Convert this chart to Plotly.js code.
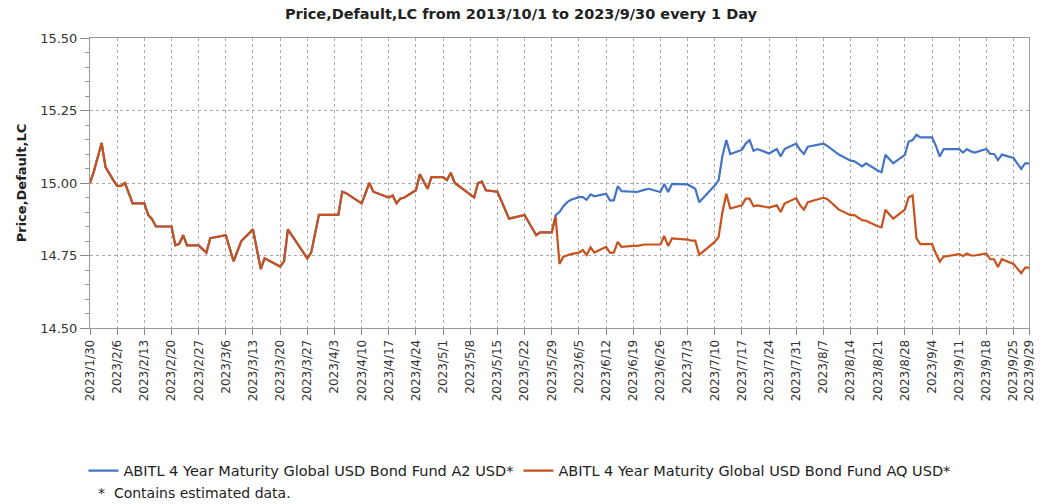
<!DOCTYPE html>
<html>
<head>
<meta charset="utf-8">
<script src="https://cdn.plot.ly/plotly-3.0.1.min.js"></script>
<style>html,body{margin:0;padding:0;background:#fff;}#chart{width:1042px;height:504px;}</style>
</head>
<body>
<div id="chart"></div>
<script>
// Shared history (both share classes overlap until the end of May)
const commonDates = ['2023-01-30','2023-01-31','2023-02-02','2023-02-03','2023-02-05','2023-02-06','2023-02-07','2023-02-08','2023-02-10','2023-02-13','2023-02-14','2023-02-15','2023-02-16','2023-02-20','2023-02-21','2023-02-22','2023-02-23','2023-02-24','2023-02-27','2023-03-01','2023-03-02','2023-03-06','2023-03-08','2023-03-10','2023-03-13','2023-03-14','2023-03-15','2023-03-16','2023-03-20','2023-03-21','2023-03-22','2023-03-27','2023-03-28','2023-03-30','2023-04-04','2023-04-05','2023-04-06','2023-04-10','2023-04-12','2023-04-13','2023-04-17','2023-04-18','2023-04-19','2023-04-20','2023-04-21','2023-04-24','2023-04-25','2023-04-27','2023-04-28','2023-05-01','2023-05-02','2023-05-03','2023-05-04','2023-05-09','2023-05-10','2023-05-11','2023-05-12','2023-05-15','2023-05-18','2023-05-22','2023-05-25','2023-05-26','2023-05-29'];
const commonValues = [15.00,15.04,15.138,15.055,15.01,14.99,14.99,15.00,14.93,14.93,14.89,14.875,14.85,14.85,14.785,14.79,14.82,14.785,14.785,14.76,14.81,14.82,14.73,14.80,14.84,14.775,14.703,14.74,14.712,14.73,14.84,14.74,14.76,14.89,14.89,14.97,14.965,14.93,15.00,14.97,14.95,14.957,14.93,14.946,14.95,14.975,15.03,14.98,15.02,15.02,15.01,15.035,15.00,14.95,15.00,15.005,14.975,14.97,14.877,14.89,14.82,14.83,14.83];

// After the split
const lateDates = ['2023-05-30','2023-05-31','2023-06-01','2023-06-02','2023-06-03','2023-06-05','2023-06-06','2023-06-07','2023-06-08','2023-06-09','2023-06-12','2023-06-13','2023-06-14','2023-06-15','2023-06-16','2023-06-19','2023-06-20','2023-06-22','2023-06-23','2023-06-26','2023-06-27','2023-06-28','2023-06-29','2023-07-03','2023-07-04','2023-07-05','2023-07-06','2023-07-08','2023-07-10','2023-07-11','2023-07-12','2023-07-13','2023-07-14','2023-07-17','2023-07-18','2023-07-19','2023-07-20','2023-07-21','2023-07-24','2023-07-26','2023-07-27','2023-07-28','2023-07-31','2023-08-01','2023-08-02','2023-08-03','2023-08-07','2023-08-08','2023-08-11','2023-08-14','2023-08-15','2023-08-17','2023-08-18','2023-08-21','2023-08-22','2023-08-23','2023-08-25','2023-08-28','2023-08-29','2023-08-30','2023-08-31','2023-09-01','2023-09-04','2023-09-05','2023-09-06','2023-09-07','2023-09-11','2023-09-12','2023-09-13','2023-09-14','2023-09-15','2023-09-18','2023-09-19','2023-09-20','2023-09-21','2023-09-22','2023-09-25','2023-09-27','2023-09-28','2023-09-29'];
const a2Late = [14.889,14.900,14.920,14.934,14.942,14.951,14.951,14.942,14.961,14.954,14.963,14.940,14.940,14.989,14.972,14.969,14.969,14.977,14.980,14.969,14.997,14.969,14.997,14.995,14.988,14.980,14.934,14.961,14.991,15.009,15.094,15.148,15.100,15.114,15.136,15.148,15.111,15.117,15.102,15.117,15.091,15.117,15.136,15.114,15.100,15.125,15.136,15.128,15.098,15.077,15.075,15.057,15.068,15.043,15.037,15.097,15.068,15.097,15.143,15.148,15.166,15.157,15.157,15.128,15.091,15.117,15.117,15.105,15.117,15.109,15.105,15.117,15.100,15.100,15.079,15.098,15.086,15.049,15.068,15.068];
const aqLate = [14.883,14.721,14.746,14.750,14.755,14.760,14.769,14.752,14.778,14.760,14.780,14.760,14.760,14.797,14.780,14.783,14.783,14.788,14.788,14.788,14.817,14.783,14.809,14.805,14.801,14.801,14.752,14.775,14.797,14.814,14.900,14.963,14.912,14.923,14.946,14.946,14.920,14.923,14.915,14.923,14.900,14.929,14.948,14.923,14.908,14.934,14.949,14.945,14.908,14.889,14.889,14.872,14.870,14.851,14.847,14.908,14.877,14.908,14.951,14.957,14.809,14.789,14.789,14.757,14.729,14.746,14.755,14.748,14.757,14.750,14.750,14.757,14.737,14.737,14.710,14.737,14.721,14.689,14.708,14.708];

const seriesNames = ['ABITL 4 Year Maturity Global USD Bond Fund A2 USD*','ABITL 4 Year Maturity Global USD Bond Fund AQ USD*'];

const tickDates = ['2023-01-30','2023-02-06','2023-02-13','2023-02-20','2023-02-27','2023-03-06','2023-03-13','2023-03-20','2023-03-27','2023-04-03','2023-04-10','2023-04-17','2023-04-24','2023-05-01','2023-05-08','2023-05-15','2023-05-22','2023-05-29','2023-06-05','2023-06-12','2023-06-19','2023-06-26','2023-07-03','2023-07-10','2023-07-17','2023-07-24','2023-07-31','2023-08-07','2023-08-14','2023-08-21','2023-08-28','2023-09-04','2023-09-11','2023-09-18','2023-09-25','2023-09-29'];
const tickLabels = ['2023/1/30','2023/2/6','2023/2/13','2023/2/20','2023/2/27','2023/3/6','2023/3/13','2023/3/20','2023/3/27','2023/4/3','2023/4/10','2023/4/17','2023/4/24','2023/5/1','2023/5/8','2023/5/15','2023/5/22','2023/5/29','2023/6/5','2023/6/12','2023/6/19','2023/6/26','2023/7/3','2023/7/10','2023/7/17','2023/7/24','2023/7/31','2023/8/7','2023/8/14','2023/8/21','2023/8/28','2023/9/4','2023/9/11','2023/9/18','2023/9/25','2023/9/29'];
const yTicks = [14.50,14.75,15.00,15.25,15.50];

const fontMain = 'DejaVu Sans, Verdana, sans-serif';

const traces = [
  {x: commonDates.concat(lateDates), y: commonValues.concat(a2Late), name: seriesNames[0], type:'scatter', mode:'lines', line:{color:'#4374C6', width:2.2}},
  {x: commonDates.concat(lateDates), y: commonValues.concat(aqLate), name: seriesNames[1], type:'scatter', mode:'lines', line:{color:'#C8511C', width:2.2}}
];

const layout = {
  width:1042, height:504,
  margin:{l:90, r:13, t:38, b:176},
  paper_bgcolor:'#fff', plot_bgcolor:'#fff',
  title:{text:'Price,Default,LC from 2013/10/1 to 2023/9/30 every 1 Day', x:0.5, xanchor:'center', y:0.972, yanchor:'middle', font:{family:fontMain, size:14.5, color:'#222', weight:'bold'}},
  showlegend:true,
  legend:{orientation:'h', x:-0.007, xanchor:'left', y:-0.437, yanchor:'top', font:{family:fontMain, size:14.5, color:'#222'}, itemwidth:30, tracegroupgap:0},
  xaxis:{type:'date', range:['2023-01-30','2023-09-29'], tickvals:tickDates, ticktext:tickLabels, tickangle:-90,
    tickfont:{family:fontMain, size:12, color:'#333'}, ticks:'outside', ticklen:6, tickcolor:'#888',
    showgrid:true, gridcolor:'#aaa', griddash:'dot', gridwidth:1,
    showline:true, linecolor:'#999', linewidth:1, mirror:true, zeroline:false, automargin:false},
  yaxis:{range:[14.5,15.5], tickvals:yTicks, tickformat:'.2f', tickfont:{family:fontMain, size:13, color:'#333'},
    ticks:'outside', ticklen:9, tickcolor:'#888',
    minor:{dtick:0.05, tick0:14.5, ticks:'outside', ticklen:4, tickcolor:'#999', showgrid:false},
    showgrid:true, gridcolor:'#aaa', griddash:'dot', gridwidth:1,
    showline:true, linecolor:'#999', linewidth:1, mirror:true, zeroline:false,
    title:{text:'Price,Default,LC', standoff:10, font:{family:fontMain, size:13, color:'#222', weight:'bold'}}, automargin:false},
  annotations:[{text:'*  Contains estimated data.', xref:'paper', yref:'paper', x:0.006, xanchor:'left', y:-0.57, yanchor:'middle', showarrow:false, font:{family:fontMain, size:14, color:'#222'}}]
};

Plotly.newPlot('chart', traces, layout, {displayModeBar:false, staticPlot:true});
</script>
</body>
</html>
